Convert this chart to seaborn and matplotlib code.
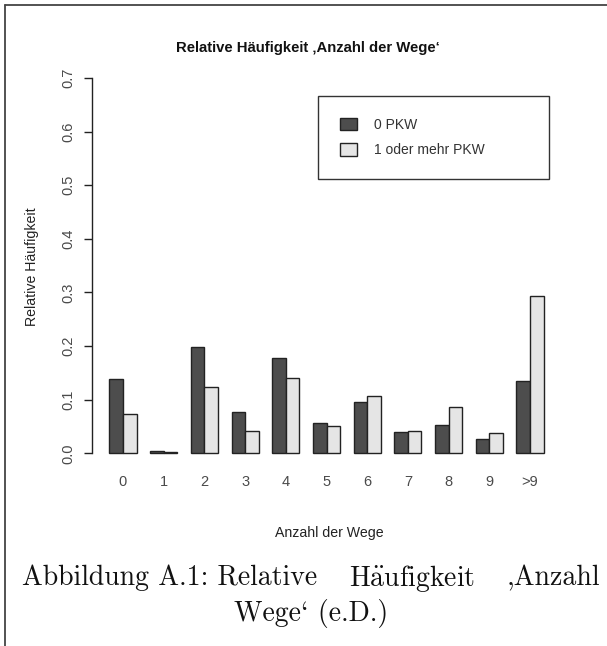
import matplotlib
matplotlib.use("Agg")
import matplotlib.pyplot as plt
from matplotlib.lines import Line2D
import pandas as pd
import seaborn as sns

kategorien = ["0", "1", "2", "3", "4", "5", "6", "7", "8", "9", ">9"]
pkw_0 = [0.138, 0.004, 0.198, 0.077, 0.178, 0.057, 0.095, 0.040, 0.052, 0.027, 0.135]
pkw_1 = [0.073, 0.003, 0.123, 0.042, 0.141, 0.050, 0.107, 0.041, 0.087, 0.037, 0.294]
gruppen = ["0 PKW", "1 oder mehr PKW"]
y_ticks = [0.0, 0.1, 0.2, 0.3, 0.4, 0.5, 0.6, 0.7]

df = pd.DataFrame({
    "Anzahl": kategorien * 2,
    "Wert": pkw_0 + pkw_1,
    "Gruppe": [gruppen[0]] * len(kategorien) + [gruppen[1]] * len(kategorien),
})

sns.set_style("white")
plt.rcParams["font.family"] = ["Liberation Sans", "DejaVu Sans"]
plt.rcParams["mathtext.fontset"] = "cm"

W, H = 607, 646
fig = plt.figure(figsize=(W / 100, H / 100), dpi=100)
ax = fig.add_axes([92 / W, 1 - 468.3 / H, 469 / W, 405.2 / H])

sns.barplot(data=df, x="Anzahl", y="Wert", hue="Gruppe", order=kategorien,
            palette=["#4d4d4d", "#e5e5e5"], width=2 / 3, gap=0, saturation=1,
            edgecolor="#222222", linewidth=1.0, ax=ax)

ax.set_xlim(-0.76, 10.76)
ax.set_ylim(-0.028, 0.728)
for s in ["top", "right", "bottom"]:
    ax.spines[s].set_visible(False)
ax.spines["left"].set_bounds(0, 0.7)
ax.spines["left"].set_color("#222222")
ax.spines["left"].set_linewidth(1.0)

ax.set_yticks(y_ticks)
ax.set_yticklabels([f"{v:.1f}" for v in y_ticks], rotation=90, va="center",
                   fontsize=10.5, color="#4a4a4a")
ax.tick_params(axis="y", length=6, width=1, color="#222222", pad=6, left=True)
ax.tick_params(axis="x", length=0, pad=5, labelsize=10.5, labelcolor="#4a4a4a")

ax.set_xlabel("")
ax.set_ylabel("")
fig.text(329 / W, 1 - 533 / H, "Anzahl der Wege", ha="center", va="center",
         fontsize=10.2, color="#222222")
fig.text(32 / W, 1 - 267 / H, "Relative Häufigkeit", ha="center", va="center",
         rotation=90, fontsize=10.2, color="#222222")
fig.text(308 / W, 1 - 48 / H, "Relative Häufigkeit ‚Anzahl der Wege‘",
         ha="center", va="center", fontsize=10.7, fontweight="bold", color="#111111")

handles, labels = ax.get_legend_handles_labels()
ax.legend(handles, labels, loc="upper left",
          bbox_to_anchor=(318 / W, 1 - 96 / H, 231 / W, 0), bbox_transform=fig.transFigure,
          mode="expand", borderaxespad=0, fontsize=10, frameon=True, fancybox=False,
          framealpha=1, edgecolor="#333333", borderpad=1.55, labelspacing=0.85,
          handlelength=1.25, handleheight=1.0, handletextpad=1.2,
          labelcolor="#333333").get_frame().set_linewidth(1.0)

# Seitenrahmen
fig.add_artist(Line2D([5 / W, 1], [1 - 5 / H, 1 - 5 / H], color="#444444", lw=1.3))
fig.add_artist(Line2D([5 / W, 5 / W], [0, 1 - 5 / H], color="#444444", lw=1.3))

# Bildunterschrift, erste Zeile im Blocksatz
cap = dict(fontsize=20, family="cmr10", color="#111111", va="center")
y1 = 1 - 578 / H
woerter = ["Abbildung A.1: Relative", r"H$\ddot{\mathrm{a}}$ufigkeit", ",Anzahl"]
texte = [fig.text(0, y1, w, ha="left", **cap) for w in woerter]
renderer = fig.canvas.get_renderer()
breiten = [t.get_window_extent(renderer).width for t in texte]
links, rechts = 22, 600
luecke = (rechts - links - sum(breiten)) / (len(woerter) - 1)
x = links
for t, b in zip(texte, breiten):
    t.set_x(x / W)
    x += b + luecke
fig.text(311 / W, 1 - 613 / H, "Wege` (e.D.)", ha="center", **cap)

fig.savefig("out.png", dpi=100)
